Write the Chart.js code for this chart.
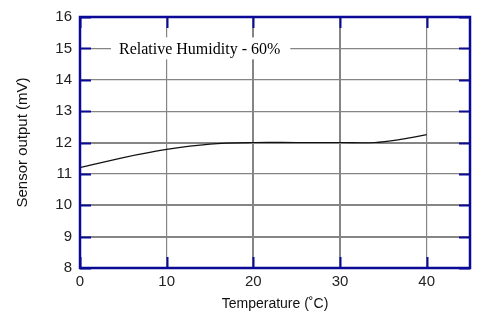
<!DOCTYPE html>
<html>
<head>
<meta charset="utf-8">
<script src="https://cdn.jsdelivr.net/npm/chart.js@4.4.1/dist/chart.umd.min.js"></script>
<style>
html, body { margin: 0; padding: 0; background: #fff; }
</style>
</head>
<body>
<canvas id="chart" width="481" height="325"></canvas>
<script>
// values
var temps = [0, 5, 10, 15, 20, 25, 30, 34, 37, 40];
var output = [11.2, 11.52, 11.78, 11.95, 12.0, 12.0, 12.0, 12.0, 12.1, 12.25];
var xTicks = [0, 10, 20, 30, 40];
var yTicks = [8, 9, 10, 11, 12, 13, 14, 15, 16];
var legendText = 'Relative Humidity - 60%';

var navy = '#0a0a96';
var gray = '#858585';

// border box + inward navy ticks + the label box
var framePlugin = {
	id: 'frame',
	beforeDatasetsDraw: function(chart) {
		var ctx = chart.ctx, a = chart.chartArea;
		var y = chart.scales.y.getPixelForValue(15);
		ctx.save();
		ctx.font = '16px "Liberation Serif", "Times New Roman", serif';
		var w = ctx.measureText(legendText).width;
		ctx.fillStyle = '#fff';
		ctx.fillRect(a.left + 31, y - 11, w + 18, 22);
		ctx.fillStyle = '#000';
		ctx.textBaseline = 'middle';
		ctx.fillText(legendText, a.left + 39, y + 1);
		ctx.restore();
	},
	afterDatasetsDraw: function(chart) {
		var ctx = chart.ctx, a = chart.chartArea;
		var xs = chart.scales.x, ys = chart.scales.y;
		var len = 11;
		ctx.save();
		ctx.strokeStyle = navy;
		ctx.lineWidth = 2;
		xTicks.forEach(function(v) {
			var px = Math.round(xs.getPixelForValue(v)) + 0.5;
			ctx.beginPath();
			ctx.moveTo(px, a.bottom); ctx.lineTo(px, a.bottom - len);
			ctx.moveTo(px, a.top); ctx.lineTo(px, a.top + len);
			ctx.stroke();
		});
		yTicks.forEach(function(v) {
			var py = Math.round(ys.getPixelForValue(v)) + 0.5;
			ctx.beginPath();
			ctx.moveTo(a.left, py); ctx.lineTo(a.left + len, py);
			ctx.moveTo(a.right, py); ctx.lineTo(a.right - len, py);
			ctx.stroke();
		});
		ctx.lineWidth = 2.5;
		ctx.strokeRect(a.left, a.top, a.right - a.left, a.bottom - a.top);
		ctx.restore();
	}
};

var tickFont = { family: '"Liberation Sans", Arial, sans-serif', size: 15 };
var titleFont = { family: '"Liberation Sans", Arial, sans-serif', size: 14 };

new Chart(document.getElementById('chart').getContext('2d'), {
	type: 'line',
	data: {
		datasets: [{
			label: legendText,
			data: temps.map(function(t, i) { return { x: t, y: output[i] }; }),
			borderColor: '#111',
			borderWidth: 1.2,
			pointRadius: 0,
			tension: 0.35,
			fill: false
		}]
	},
	options: {
		responsive: false,
		animation: false,
		layout: { padding: { left: 0, right: 11, top: 15, bottom: 0 } },
		plugins: {
			legend: { display: false },
			tooltip: { enabled: false }
		},
		scales: {
			x: {
				type: 'linear',
				min: 0,
				max: 45,
				afterBuildTicks: function(scale) {
					scale.ticks = xTicks.map(function(v) { return { value: v }; });
				},
				afterFit: function(scale) { scale.height = 57; },
				border: { display: false },
				grid: {
					color: gray,
					lineWidth: function(c) { return (c.tick && (c.tick.value === 20 || c.tick.value === 30)) ? 2 : 1.2; },
					drawTicks: false
				},
				ticks: { color: '#222', font: tickFont, padding: 5, maxRotation: 0 },
				title: {
					display: true,
					text: 'Temperature (˚C)',
					color: '#111',
					font: titleFont,
					padding: { top: 2, bottom: 12 }
				}
			},
			y: {
				min: 8,
				max: 16,
				afterBuildTicks: function(scale) {
					scale.ticks = yTicks.map(function(v) { return { value: v }; });
				},
				afterFit: function(scale) { scale.width = 80; },
				border: { display: false },
				grid: {
					color: gray,
					lineWidth: function(c) {
						var v = c.tick && c.tick.value;
						return (v === 9 || v === 10 || v === 12) ? 2 : 1.2;
					},
					drawTicks: false
				},
				ticks: { color: '#222', font: tickFont, padding: 8 },
				title: {
					display: true,
					text: 'Sensor output (mV)',
					color: '#111',
					font: { family: titleFont.family, size: 15 },
					padding: { top: 14, bottom: 0 }
				}
			}
		}
	},
	plugins: [framePlugin]
});
</script>
</body>
</html>
